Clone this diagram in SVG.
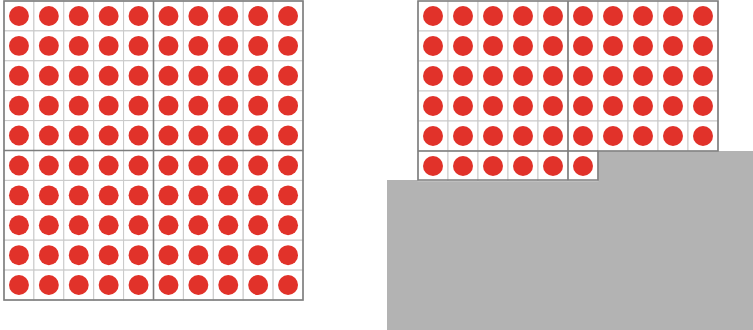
<svg xmlns="http://www.w3.org/2000/svg" xmlns:xlink="http://www.w3.org/1999/xlink" width="753" height="330" viewBox="0 0 753 330">
<style>
.cell{fill:#fff;stroke:#c9c9c9;stroke-width:1}
.dot{fill:#e1322a}
.frame{fill:none;stroke:#7d7d7d;stroke-width:1.6}
.div{stroke:#7d7d7d;stroke-width:1.6}
.floor{fill:#b3b3b3}
</style>
<defs>
<g id="c"><rect class="cell" width="30" height="30"/><circle class="dot" cx="15" cy="15" r="10"/></g>
<g id="r5"><use href="#c" x="0"/><use href="#c" x="30"/><use href="#c" x="60"/><use href="#c" x="90"/><use href="#c" x="120"/></g>
<g id="r10"><use href="#r5"/><use href="#r5" x="150"/></g>
<g id="b10"><use href="#r10" y="0"/><use href="#r10" y="30"/><use href="#r10" y="60"/><use href="#r10" y="90"/><use href="#r10" y="120"/></g>
</defs>
<rect width="753" height="330" fill="#fff"/>
<g id="left-grid" transform="translate(4,1) scale(0.9967)">
<use href="#b10"/>
<use href="#b10" y="150"/>
<rect class="frame" width="300" height="300"/>
<line class="div" x1="150" y1="0" x2="150" y2="300"/>
<line class="div" x1="0" y1="150" x2="300" y2="150"/>
</g>
<polygon id="floor" class="floor" points="387,180 598,180 598,151 753,151 753,330 387,330"/>
<g id="right-grid" transform="translate(418,1)">
<use href="#b10"/>
<use href="#r5" y="150"/>
<use href="#c" x="150" y="150"/>
<polygon class="frame" points="0,0 300,0 300,150 180,150 180,179 0,179"/>
<line class="div" x1="150" y1="0" x2="150" y2="179"/>
<line class="div" x1="0" y1="150" x2="180" y2="150"/>
</g>
</svg>
